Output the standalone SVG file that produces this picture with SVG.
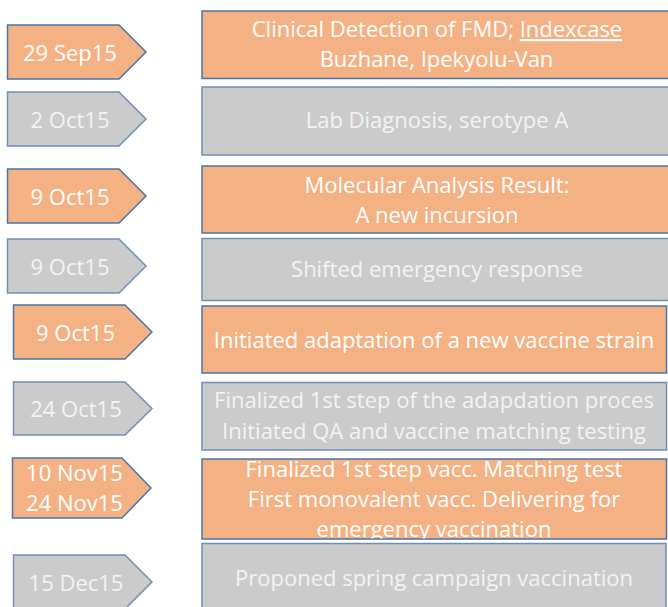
<svg xmlns="http://www.w3.org/2000/svg" width="668" height="607" viewBox="0 0 668 607">
<style>
.o{fill:#F4B183;stroke:#4A76A6;stroke-width:1.5}
.g{fill:#CBCBCB;stroke:#6F8FB5;stroke-width:1.5}
text{font-family:"Open Sans","Liberation Sans",sans-serif;font-size:22px;text-anchor:middle}
.tw{fill:#FFFFFF}
.tg{fill:#F2F2F2}
</style>
<defs>
<clipPath id="c7"><rect x="202" y="459" width="465" height="79.5"/></clipPath>
</defs>
<rect width="668" height="607" fill="#FFFFFF"/>
<g id="date1"><path class="o" d="M7.5 25H119L146 52L119 79H7.5Z"/><text class="tw" x="70" y="61">29 Sep15</text></g>
<g id="date2"><path class="g" d="M7.5 92H119L146 119L119 146H7.5Z"/><text class="tg" x="70" y="127.5">2 Oct15</text></g>
<g id="date3"><path class="o" d="M7.5 169H119L146 196L119 223H7.5Z"/><text class="tw" x="70" y="205">9 Oct15</text></g>
<g id="date4"><path class="g" d="M7.5 239H119L146 266L119 293H7.5Z"/><text class="tg" x="70" y="275">9 Oct15</text></g>
<g id="date5"><path class="o" d="M13.5 305H125L152 332L125 359H13.5Z"/><text class="tw" x="75.5" y="341">9 Oct15</text></g>
<g id="date6"><path class="g" d="M13.5 382H125L152 408.5L125 435H13.5Z"/><text class="tg" x="76" y="416.5">24 Oct15</text></g>
<g id="date7"><path class="o" d="M12.5 458H122L151 488L122 518H12.5Z"/><text class="tw" x="74.5" y="480.5">10 Nov15</text><text class="tw" x="74.5" y="511">24 Nov15</text></g>
<g id="date8"><path class="g" d="M13.5 555H125L152 582L125 609H13.5Z"/><text class="tg" x="76" y="590.5">15 Dec15</text></g>

<g id="event1"><rect class="o" x="202" y="11" width="480" height="67.5"/><text class="tw" x="437" y="37">Clinical Detection of FMD; <tspan text-decoration="underline">Indexcase</tspan></text><text class="tw" x="436.5" y="66.5">Buzhane, Ipekyolu-Van</text></g>
<g id="event2"><rect class="g" x="202" y="87" width="480" height="68"/><text class="tg" x="437" y="128">Lab Diagnosis, serotype A</text></g>
<g id="event3"><rect class="o" x="202" y="166" width="480" height="67"/><text class="tw" x="437" y="193">Molecular Analysis Result:</text><text class="tw" x="437" y="223">A new incursion</text></g>
<g id="event4"><rect class="g" x="202" y="238.5" width="480" height="62"/><text class="tg" x="437" y="277">Shifted emergency response</text></g>
<g id="event5"><rect class="o" x="202" y="306" width="464.5" height="67"/><text class="tw" x="434" y="348">Initiated adaptation of a new vaccine strain</text></g>
<g id="event6"><rect class="g" x="202" y="382.5" width="464.5" height="67.5"/><text class="tg" x="434" y="408">Finalized 1st step of the adapdation proces</text><text class="tg" x="434" y="439">Initiated QA and vaccine matching testing</text></g>
<g id="event7"><rect class="o" x="202" y="459" width="464.5" height="80"/><g clip-path="url(#c7)"><text class="tw" x="434" y="477">Finalized 1st step vacc. Matching test</text><text class="tw" x="434" y="507">First monovalent vacc. Delivering for</text><text class="tw" x="434" y="536.5">emergency vaccination</text></g></g>
<g id="event8"><rect class="g" x="202" y="543.5" width="464" height="80"/><text class="tg" x="434" y="586">Proponed spring campaign vaccination</text></g>
<g id="connectors"/>
</svg>
